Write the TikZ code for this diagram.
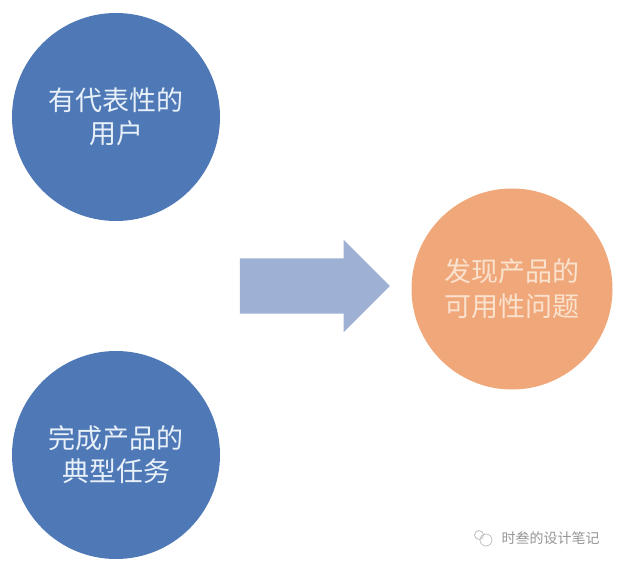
\documentclass[tikz,border=0pt]{standalone}
\usepackage{fontspec}
\newfontfamily\cjk{Noto Sans CJK SC}
\usetikzlibrary{shapes.arrows}
\definecolor{bluefill}{RGB}{79,121,182}
\definecolor{bluetext}{RGB}{232,240,250}
\definecolor{orangefill}{RGB}{240,168,122}
\definecolor{orangetext}{RGB}{250,226,206}
\definecolor{arrowfill}{RGB}{158,177,212}
\definecolor{wmgray}{RGB}{150,150,150}
\tikzset{
  bubble/.style={circle, inner sep=0pt, draw=none, align=center,
    font=\cjk\fontsize{27}{33}\selectfont},
  bluebubble/.style={bubble, fill=bluefill, text=bluetext, minimum size=208pt},
  orangebubble/.style={bubble, fill=orangefill, text=orangetext, minimum size=201pt,
    font=\cjk\fontsize{27}{35}\selectfont},
  bigarrow/.style={single arrow, fill=arrowfill, draw=none, inner xsep=0pt,
    inner ysep=27.5pt, minimum height=150pt, single arrow head extend=18.5pt,
    single arrow tip angle=90}
}
\begin{document}
\begin{tikzpicture}[x=1pt,y=-1pt]
\useasboundingbox (0,0) rectangle (623,569);
\fill[white] (0,0) rectangle (623,569);
\node[bluebubble] (users) at (116,117) {有代表性的\\用户};
\node[bluebubble] (tasks) at (116,455) {完成产品的\\典型任务};
\node[orangebubble] (issues) at (512,289) {发现产品的\\可用性问题};
\node[bigarrow] (arrow) at (301,286) {};
% watermark
\node[font=\cjk\fontsize{14}{16}\selectfont, text=wmgray, anchor=west] (wm) at (498,538) {时叁的设计笔记};
\draw[wmgray!60, line width=0.8pt] (486,540) circle (6pt);
\draw[wmgray!60, line width=0.8pt] (479,535) circle (4.5pt);
\end{tikzpicture}
\end{document}
